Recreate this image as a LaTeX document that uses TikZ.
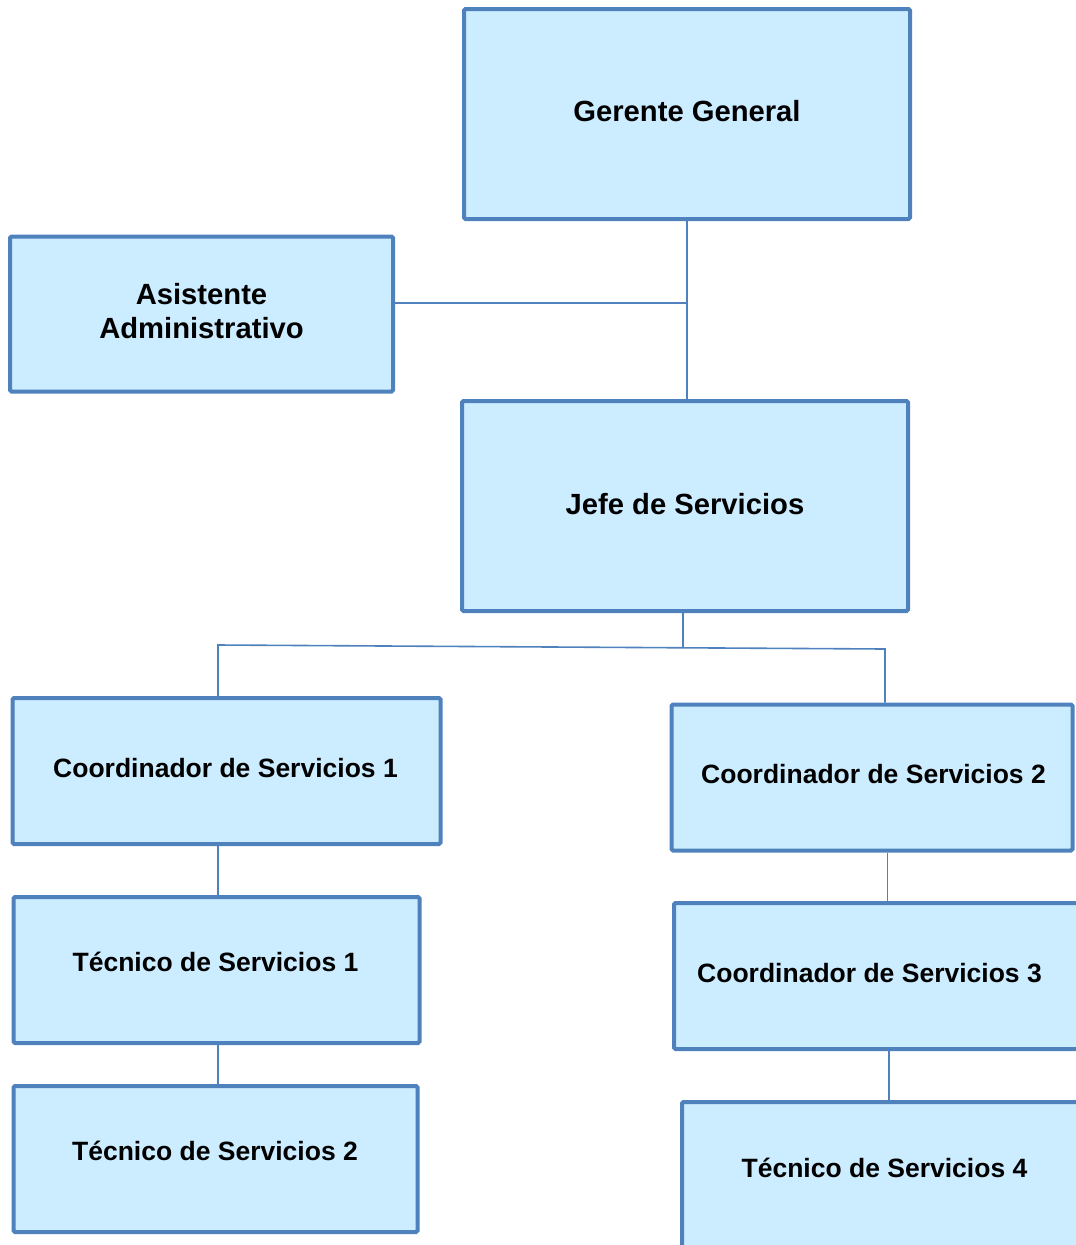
\documentclass[tikz,border=0pt]{standalone}
\usepackage{fontspec}
\setmainfont{Liberation Sans}
\definecolor{boxfill}{HTML}{CCECFF}
\definecolor{boxline}{HTML}{4F81BD}
\begin{document}
\begin{tikzpicture}[x=1pt,y=-1pt,
  orgbox/.style={draw=boxline, fill=boxfill, line width=4pt, rounded corners=1.5pt,
    inner sep=0pt, align=center},
  bigtxt/.style={font=\bfseries\fontsize{29.2}{34}\selectfont, align=center},
  smalltxt/.style={font=\bfseries\fontsize{26.5}{31}\selectfont, align=center},
  link/.style={draw=boxline, line width=1.6pt}]
\useasboundingbox (0,0) rectangle (1076,1245);

% boxes
\node[orgbox, minimum width=446pt, minimum height=210pt] (ger) at (687,114) {};
\node[orgbox, minimum width=383pt, minimum height=155pt] (asi) at (201.5,314) {};
\node[orgbox, minimum width=446pt, minimum height=210pt] (jef) at (685,506) {};
\node[orgbox, minimum width=428pt, minimum height=146pt] (co1) at (226.5,771) {};
\node[orgbox, minimum width=401pt, minimum height=146pt] (co2) at (872,777.5) {};
\node[orgbox, minimum width=416pt, minimum height=146pt] (co3) at (882,976) {};
\node[orgbox, minimum width=418pt, minimum height=190pt] (te4) at (891,1197) {};
\node[orgbox, minimum width=406pt, minimum height=146pt] (te1) at (216.5,970) {};
\node[orgbox, minimum width=404pt, minimum height=146pt] (te2) at (215.5,1159) {};

% labels
\node[bigtxt] (gerT) at (687,111) {Gerente General};
\node[bigtxt] (asiT) at (201.5,311) {Asistente\\Administrativo};
\node[bigtxt] (jefT) at (685,504) {Jefe de Servicios};
\node[smalltxt] (co1T) at (225.5,768) {Coordinador de Servicios 1};
\node[smalltxt] (co2T) at (873.5,774) {Coordinador de Servicios 2};
\node[smalltxt] (co3T) at (869.5,973) {Coordinador de Servicios 3};
\node[smalltxt] (te4T) at (884.5,1168) {Técnico de Servicios 4};
\node[smalltxt] (te1T) at (215.5,962) {Técnico de Servicios 1};
\node[smalltxt] (te2T) at (215,1151) {Técnico de Servicios 2};

% connectors
\coordinate (tee) at (687,303);
\coordinate (jd) at (683,647);
\coordinate (bl) at (218,645);
\coordinate (br) at (885,649);
\draw[link] (ger.south -| tee) -- (jef.north -| tee);
\draw[link] (asi.east |- tee) -- (tee);
\draw[link] (jef.south -| jd) -- (jd);
\draw[link] (co1.north -| bl) -- (bl) -- (br) -- (co2.north -| br);
\draw[link] (co1.south -| bl) -- (te1.north -| bl);
\draw[link] (te1.south -| bl) -- (te2.north -| bl);
\draw[link] (co2.south -| 887.5,0) -- (co3.north -| 887.5,0);
\draw[link] (co3.south -| 889,0) -- (te4.north -| 889,0);
\end{tikzpicture}
\end{document}
